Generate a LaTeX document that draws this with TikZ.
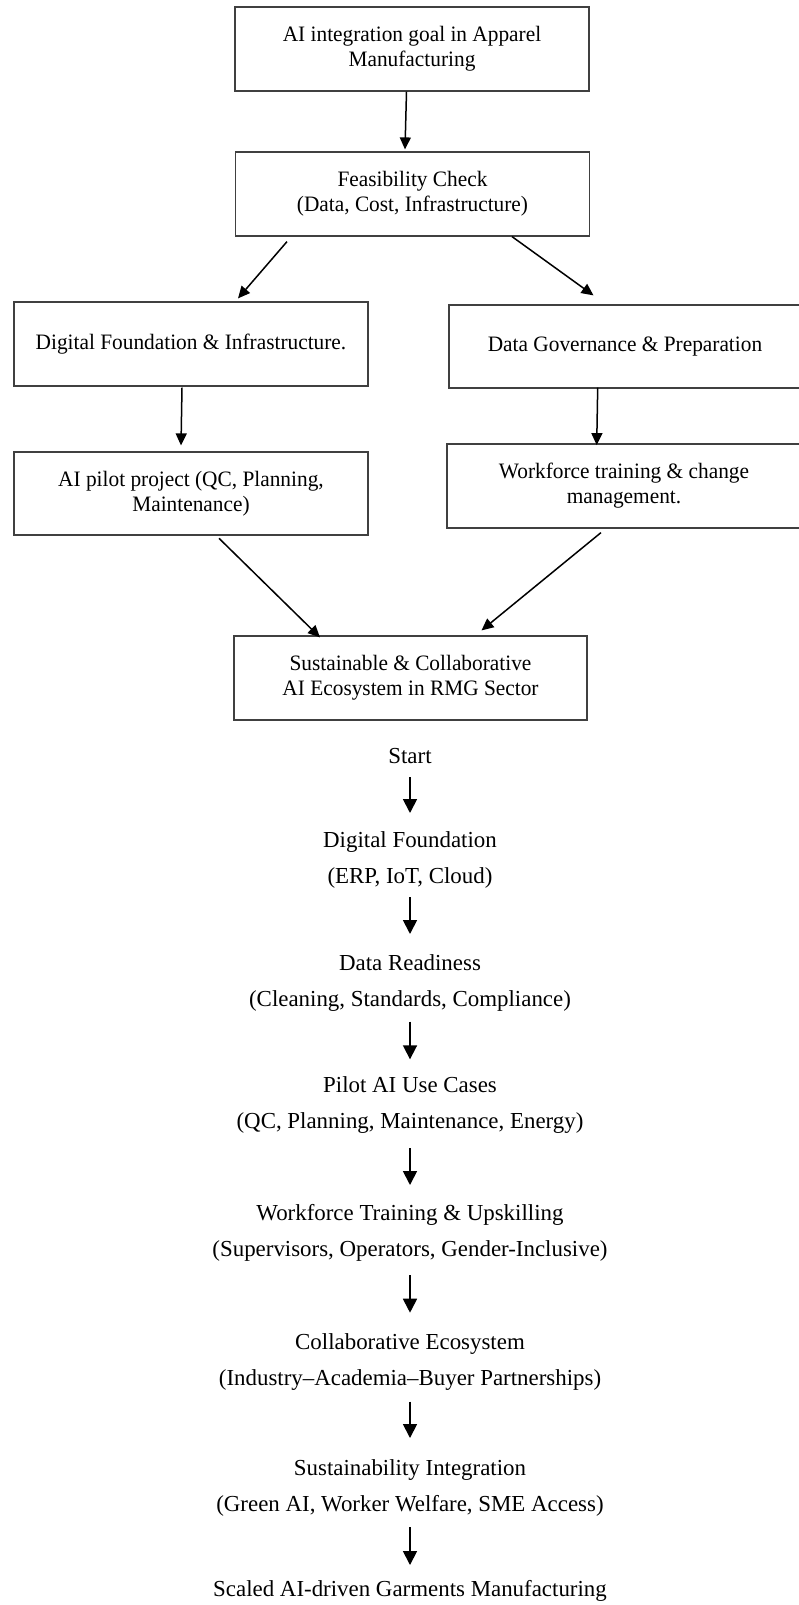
\documentclass[tikz,border=0pt]{standalone}
\usepackage{fontspec}
\setmainfont{Liberation Serif}
\newfontfamily\boxfont[FakeStretch=0.97]{Liberation Serif}
\usetikzlibrary{arrows.meta,calc}
\begin{document}
\begin{tikzpicture}[x=1pt,y=-1pt,
  box/.style={draw=black!75, line width=1.2pt, rectangle, minimum width=354pt, minimum height=84pt, inner sep=0pt, align=center, font=\boxfont\fontsize{22}{25}\selectfont},
  flow/.style={line width=1.5pt, -{Triangle[length=12pt,width=11pt]}},
  steptext/.style={inner sep=0pt, align=center, font=\fontsize{22.9}{36}\selectfont},
  stepflow/.style={line width=1.8pt, -{Triangle[length=14pt,width=14pt]}}]
\useasboundingbox (0,0) rectangle (799,1605);
\fill[white] (0,0) rectangle (799,1605);

% upper flowchart
\node[box] (b1) at (412,49) {AI integration goal in Apparel\\Manufacturing};
\node[box] (b2) at (412.5,194) {Feasibility Check\\(Data, Cost, Infrastructure)};
\node[box] (b3) at (191,344) {Digital Foundation \& Infrastructure.};
\node[box, minimum width=352pt, minimum height=83pt] (b4) at (625,346.5) {Data Governance \& Preparation};
\node[box, minimum height=83pt] (b5) at (191,493.5) {AI pilot project (QC, Planning,\\Maintenance)};
\node[box] (b6) at (624,486) {Workforce training \& change\\management.};
\node[box, minimum width=353pt] (b7) at (410.5,678) {Sustainable \& Collaborative\\AI Ecosystem in RMG Sector};

\draw[flow] ($(b1.south)+(-5.5,0)$) -- ($(b2.north)+(-7.5,-2)$);
\draw[flow] ($(b2.south)+(-125.5,5)$) -- ($(b3.north)+(47,-3)$);
\draw[flow] ($(b2.south)+(99.5,0)$) -- ($(b4.north)+(-31.5,-9)$);
\draw[flow] ($(b3.south)+(-9,1)$) -- ($(b5.north)+(-10,-6)$);
\draw[flow] ($(b4.south)+(-27.3,-1)$) -- ($(b6.north)+(-27.3,1.7)$);
\draw[flow] ($(b5.south)+(28,2.7)$) -- ($(b7.north)+(-90.5,2)$);
\draw[flow] ($(b6.south)+(-23,4)$) -- ($(b7.north)+(71,-5)$);

% lower step list
\node[steptext] (s0) at (410,756) {Start};
\node[steptext] (s1) at (410,859.5) {Digital Foundation\\(ERP, IoT, Cloud)};
\node[steptext] (s2) at (410,983.3) {Data Readiness\\(Cleaning, Standards, Compliance)};
\node[steptext] (s3) at (410,1105.5) {Pilot AI Use Cases\\(QC, Planning, Maintenance, Energy)};
\node[steptext] (s4) at (410,1233) {Workforce Training \& Upskilling\\(Supervisors, Operators, Gender-Inclusive)};
\node[steptext] (s5) at (410,1361.7) {Collaborative Ecosystem\\(Industry–Academia–Buyer Partnerships)};
\node[steptext] (s6) at (410,1487.7) {Sustainability Integration\\(Green AI, Worker Welfare, SME Access)};
\node[steptext] (s7) at (410,1590.5) {Scaled AI-driven Garments Manufacturing};

\draw[stepflow] ($(s0.center)+(0,21)$) -- ($(s1.center)+(0,-46.5)$);
\draw[stepflow] ($(s1.center)+(0,37.5)$) -- ($(s2.center)+(0,-49.3)$);
\draw[stepflow] ($(s2.center)+(0,38.4)$) -- ($(s3.center)+(0,-46.2)$);
\draw[stepflow] ($(s3.center)+(0,42.5)$) -- ($(s4.center)+(0,-48)$);
\draw[stepflow] ($(s4.center)+(0,42)$) -- ($(s5.center)+(0,-49)$);
\draw[stepflow] ($(s5.center)+(0,40)$) -- ($(s6.center)+(0,-49.7)$);
\draw[stepflow] ($(s6.center)+(0,39.3)$) -- ($(s7.center)+(0,-25.5)$);
\end{tikzpicture}
\end{document}
